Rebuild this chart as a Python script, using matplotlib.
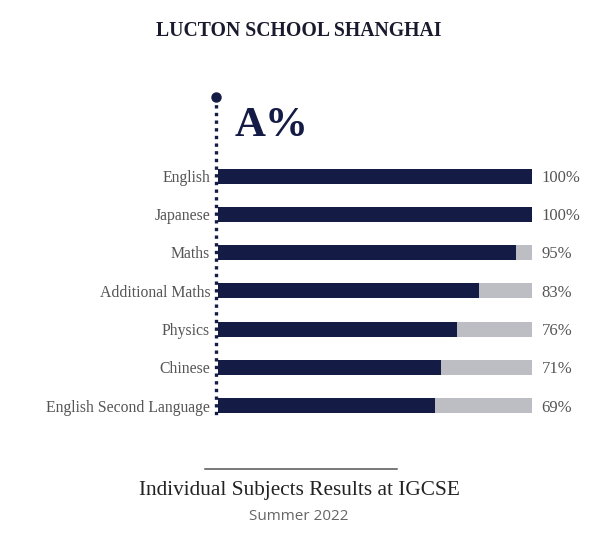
import numpy as np
import matplotlib.pyplot as plt

subjects = ['English', 'Japanese', 'Maths', 'Additional Maths', 'Physics',
            'Chinese', 'English Second Language']
a_pct = [100, 100, 95, 83, 76, 71, 69]

navy = '#141b45'
grey_bar = '#bcbec3'
W, H = 598, 536

fig = plt.figure(figsize=(W / 100, H / 100), dpi=100)
fig.patch.set_facecolor('white')

# axes placed in pixel terms: x 218..532, rows at y 176 + 38.33*i
row_gap = 38.33
top_px = 176 - 1.5 * row_gap
bot_px = 176 + 6.5 * row_gap
ax = fig.add_axes([218 / W, 1 - bot_px / H, 314 / W, (bot_px - top_px) / H])
ax.set_xlim(0, 100)
ax.set_ylim(6.5, -1.5)
ax.axis('off')

y = np.arange(len(subjects))
bh = 15 / row_gap
ax.barh(y, [100] * len(y), height=bh, color=grey_bar, linewidth=0)
ax.barh(y, a_pct, height=bh, color=navy, linewidth=0)

for yi, name, v in zip(y, subjects, a_pct):
    ax.text(-2.5, yi + 0.04, name, ha='right', va='center', fontsize=11.3,
            family='Liberation Serif', color='#555555')
    ax.text(103, yi + 0.04, f'{v}%', ha='left', va='center', fontsize=12,
            family='Liberation Serif', color='#555555')

# dotted axis line with a dot on top
px = 100 / 314
x_line = -2 * px
y_top = -1.5 + (97 - top_px) / row_gap
y_bot = -1.5 + (415 - top_px) / row_gap
ax.plot([x_line, x_line], [y_top, y_bot], color=navy, lw=2.4,
        linestyle=(0, (1, 1.3)), clip_on=False, solid_capstyle='butt')
ax.plot([x_line], [y_top], 'o', color=navy, ms=6.5, clip_on=False)

ax.text(5.3, -1.5 + (126 - top_px) / row_gap, 'A%', ha='left', va='center',
        fontsize=31, fontweight='bold', family='Liberation Serif', color=navy)

fig.text(0.5, 1 - 31 / H, 'LUCTON SCHOOL SHANGHAI', ha='center', va='center',
         fontsize=14.2, fontweight='bold', family='Liberation Serif', color='#1a1a2e')

fig.add_artist(plt.Line2D([205 / W, 397 / W], [1 - 469 / H] * 2, color='#555555',
                          lw=1.1))
fig.text(0.5, 1 - 491 / H, 'Individual Subjects Results at IGCSE', ha='center',
         va='center', fontsize=15.3, family='Liberation Serif', color='#222222')
fig.text(0.5, 1 - 516 / H, 'Summer 2022', ha='center', va='center',
         fontsize=11, family='Open Sans', color='#666666')

fig.savefig('out.png', dpi=100, facecolor='white')
